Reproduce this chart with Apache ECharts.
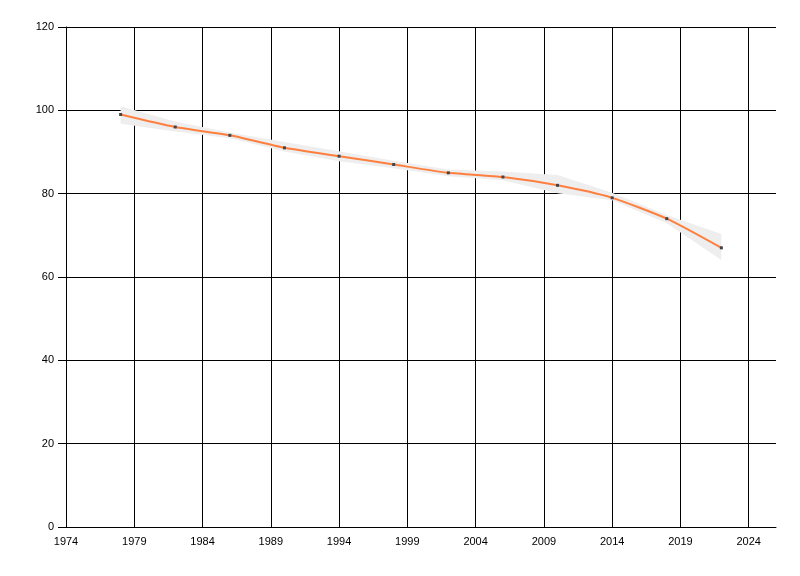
<!DOCTYPE html>
<html>
<head>
<meta charset="utf-8">
<script src="https://cdn.jsdelivr.net/npm/echarts@6/dist/echarts.min.js"></script>
<style>html,body{margin:0;padding:0;background:#fff;}#c{width:800px;height:576px;}</style>
</head>
<body>
<div id="c"></div>
<script>
const years = [1978, 1982, 1986, 1990, 1994, 1998, 2002, 2006, 2010, 2014, 2018, 2022];
const values = [99, 96, 94, 91, 89, 87, 85, 84, 82, 79, 74, 67];
const lower = [96.8, 94.9, 93.3, 90.1, 87.8, 86.1, 84.2, 83.2, 80.1, 78.4, 72.9, 64.1];
const upper = [101.0, 97.3, 94.7, 92.4, 90.2, 87.9, 85.8, 85.3, 84.5, 80.2, 74.9, 70.3];

const chart = echarts.init(document.getElementById('c'), null, {renderer: 'canvas'});
const font = {fontFamily: 'Liberation Sans', fontSize: 11, color: '#000'};
chart.setOption({
  animation: false,
  grid: {left: 66, top: 27, right: 24, bottom: 49, containLabel: false},
  xAxis: {
    type: 'value', min: 1974, max: 2026, interval: 5,
    axisLine: {show: true, lineStyle: {color: '#000', width: 1}},
    axisTick: {show: false},
    axisLabel: Object.assign({margin: 9, showMaxLabel: false, formatter: v => String(v)}, font),
    splitLine: {show: true, showMaxLine: false, lineStyle: {color: '#000', width: 1}}
  },
  yAxis: {
    type: 'value', min: 0, max: 120, interval: 20,
    axisLine: {show: true, lineStyle: {color: '#000', width: 1}},
    axisTick: {show: true, length: 8, lineStyle: {color: '#000'}},
    axisLabel: Object.assign({margin: 12}, font),
    splitLine: {show: true, lineStyle: {color: '#000', width: 1}}
  },
  series: [
    {
      type: 'custom',
      data: [[years[0], lower[0]]],
      z: 1,
      silent: true,
      renderItem: function (params, api) {
        const pts = [];
        for (let i = 0; i < years.length; i++) pts.push(api.coord([years[i], upper[i]]));
        for (let i = years.length - 1; i >= 0; i--) pts.push(api.coord([years[i], lower[i]]));
        return {
          type: 'polygon',
          shape: {points: pts},
          style: {fill: '#eeeeee', stroke: null}
        };
      }
    },
    {
      type: 'line', smooth: 0.2, symbol: 'rect', symbolSize: 3,
      data: years.map((y, i) => [y, values[i]]),
      lineStyle: {color: '#ff7f3f', width: 2},
      itemStyle: {color: '#444'}, z: 3
    }
  ]
});
</script>
</body>
</html>
